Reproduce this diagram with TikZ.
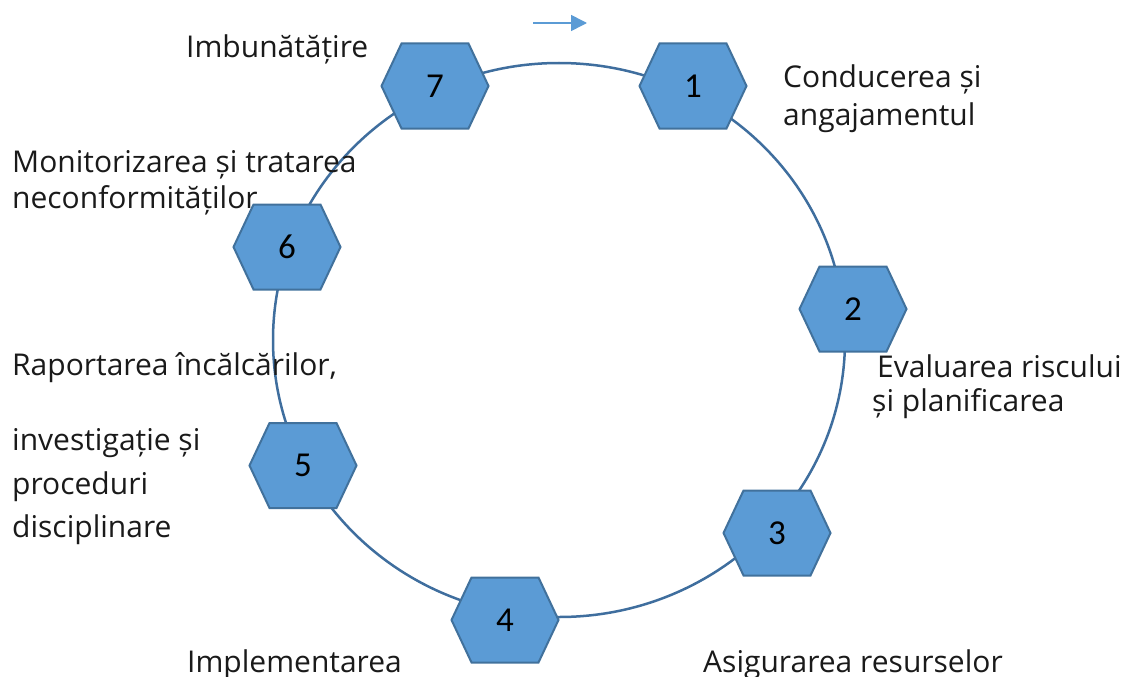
\documentclass[tikz,border=0pt]{standalone}
\usepackage{fontspec}
\setmainfont{Open Sans}
\newfontfamily\numfont{Carlito}
\usetikzlibrary{arrows.meta}
\definecolor{hexfill}{HTML}{5B9BD5}
\definecolor{hexline}{HTML}{41719C}
\definecolor{ringline}{HTML}{3F6E9E}
\definecolor{txt}{HTML}{1A1A1A}
\tikzset{
  ring/.style={draw=ringline, line width=2.5pt},
  hexa/.style={fill=hexfill, draw=hexline, line width=2pt, line join=miter},
  num/.style={font=\numfont\fontsize{35}{35}\selectfont, text=black, inner sep=0pt},
  lbl/.style={font=\fontsize{30}{36}\selectfont, text=txt, anchor=base west, inner sep=0pt},
  arr/.style={draw=hexfill, line width=1.6pt, -{Triangle[length=16pt,width=16pt]}}
}
\begin{document}
\begin{tikzpicture}[x=1pt,y=-1pt]
\useasboundingbox (0,0) rectangle (1132,677);
\draw[ring] (559,340) ellipse [x radius=286pt, y radius=277pt];
\foreach \n/\x/\y in {7/435/86, 1/693/86, 2/853/309, 3/777/533, 4/505/620, 5/303/465.5, 6/287/247} {
  \draw[hexa] (\x-53.5,\y) -- (\x-33.5,\y-42.5) -- (\x+33.5,\y-42.5) -- (\x+53.5,\y) -- (\x+33.5,\y+42.5) -- (\x-33.5,\y+42.5) -- cycle;
  \node[num] (h\n) at (\x,\y) {\n};
}
\coordinate (a1) at (533,23);
\coordinate (a2) at (587,23);
\draw[arr] (a1) -- (a2);
\node[lbl] (t7) at (186,58) {Imbunătățire};
\node[lbl] (t1a) at (783,87) {Conducerea și};
\node[lbl] (t1b) at (783,125) {angajamentul};
\node[lbl] (t6a) at (12,172) {Monitorizarea și tratarea};
\node[lbl] (t6b) at (12,208) {neconformităților};
\node[lbl] (t2a) at (877,377) {Evaluarea riscului};
\node[lbl] (t2b) at (872,411) {și planificarea};
\node[lbl] (t5a) at (12,375) {Raportarea încălcărilor,};
\node[lbl] (t5b) at (12,450) {investigație și};
\node[lbl] (t5c) at (12,494) {proceduri};
\node[lbl] (t5d) at (12,537) {disciplinare};
\node[lbl] (t4) at (187,672) {Implementarea};
\node[lbl] (t3) at (703,672) {Asigurarea resurselor};
\end{tikzpicture}
\end{document}
